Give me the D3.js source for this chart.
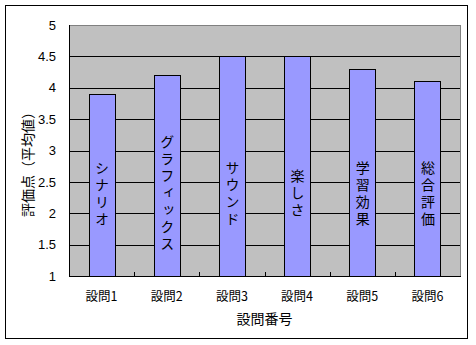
<!DOCTYPE html>
<html>
<head>
<meta charset="utf-8">
<script src="https://cdn.jsdelivr.net/npm/d3@7"></script>
<style>
  body { margin: 0; background: #fff; }
  svg text { font-family: "Noto Sans CJK JP", "Liberation Sans", sans-serif; fill: #000; }
</style>
</head>
<body>
<svg id="chart"></svg>
<script>
const width = 476,
  height = 345;

// data
const questions = ["設問1", "設問2", "設問3", "設問4", "設問5", "設問6"];
const topics = ["シナリオ", "グラフィックス", "サウンド", "楽しさ", "学習効果", "総合評価"];
const scores = [3.9, 4.2, 4.5, 4.5, 4.3, 4.1];
const yTicks = [1, 1.5, 2, 2.5, 3, 3.5, 4, 4.5, 5];

const plot = { left: 69, right: 460, top: 25, bottom: 276 };

const svg = d3.select("#chart").attr("width", width).attr("height", height);

// chart area border
svg.append("rect")
  .attr("x", 5.5).attr("y", 5.5)
  .attr("width", 462).attr("height", 333)
  .attr("fill", "#fff").attr("stroke", "#000");

const x = d3.scaleBand()
  .domain(questions)
  .range([plot.left, plot.right])
  .paddingInner(0.6)
  .paddingOuter(0.3);

const y = d3.scaleLinear().domain([1, 5]).range([plot.bottom, plot.top]);

// plot area
svg.append("rect")
  .attr("x", plot.left + 0.5).attr("y", plot.top + 0.5)
  .attr("width", plot.right - plot.left).attr("height", plot.bottom - plot.top)
  .attr("fill", "#c0c0c0").attr("stroke", "#808080");

// gridlines
svg.append("g")
  .selectAll("line")
  .data(yTicks.filter((d) => d > 1 && d < 5))
  .join("line")
  .attr("x1", plot.left).attr("x2", plot.right)
  .attr("y1", (d) => Math.round(y(d)) + 0.5)
  .attr("y2", (d) => Math.round(y(d)) + 0.5)
  .attr("stroke", "#000");

// bars
svg.append("g")
  .selectAll("rect")
  .data(scores)
  .join("rect")
  .attr("x", (d, i) => Math.round(x(questions[i])) + 0.5)
  .attr("y", (d) => Math.round(y(d)) + 0.5)
  .attr("width", Math.round(x.bandwidth()))
  .attr("height", (d) => Math.round(y(1)) - Math.round(y(d)))
  .attr("fill", "#9999ff")
  .attr("stroke", "#000");

// vertical labels in the bars
svg.append("g")
  .selectAll("text")
  .data(topics)
  .join("text")
  .attr("x", (d, i) => x(questions[i]) + x.bandwidth() / 2 + 0.5)
  .attr("y", y(2.3))
  .attr("text-anchor", "middle")
  .style("writing-mode", "vertical-rl")
  .style("text-orientation", "upright")
  .style("letter-spacing", "3px")
  .attr("font-size", 14)
  .text((d) => d);

// y axis
const yAxis = svg.append("g")
  .attr("transform", `translate(${plot.left},0)`)
  .call(d3.axisLeft(y).tickValues(yTicks).tickSize(0).tickPadding(13).tickFormat((d) => String(d)));
yAxis.select(".domain").remove();
yAxis.selectAll("text")
  .attr("font-size", 13)
  .style("font-family", "'Liberation Sans', sans-serif");
svg.append("line")
  .attr("x1", plot.left + 0.5).attr("x2", plot.left + 0.5)
  .attr("y1", plot.top).attr("y2", plot.bottom + 1)
  .attr("stroke", "#000");

// x axis
const xAxis = svg.append("g")
  .attr("transform", `translate(0,${plot.bottom})`)
  .call(d3.axisBottom(x).tickSize(0).tickPadding(16));
xAxis.select(".domain").remove();
xAxis.selectAll("text").attr("font-size", 12.5);
svg.append("line")
  .attr("x1", plot.left).attr("x2", plot.right + 1)
  .attr("y1", plot.bottom + 0.5).attr("y2", plot.bottom + 0.5)
  .attr("stroke", "#000");

// inner tick marks between categories
svg.append("g")
  .selectAll("line")
  .data(d3.range(1, questions.length))
  .join("line")
  .attr("x1", (i) => Math.round(plot.left + i * x.step()) + 0.5)
  .attr("x2", (i) => Math.round(plot.left + i * x.step()) + 0.5)
  .attr("y1", plot.bottom)
  .attr("y2", plot.bottom - 4)
  .attr("stroke", "#000");

// axis titles
svg.append("text")
  .attr("x", (plot.left + plot.right) / 2)
  .attr("y", 324)
  .attr("text-anchor", "middle")
  .attr("font-size", 14)
  .text("設問番号");

svg.append("text")
  .attr("transform", "translate(33,161) rotate(-90)")
  .attr("text-anchor", "middle")
  .attr("font-size", 14)
  .text("評価点（平均値）");
</script>
</body>
</html>
